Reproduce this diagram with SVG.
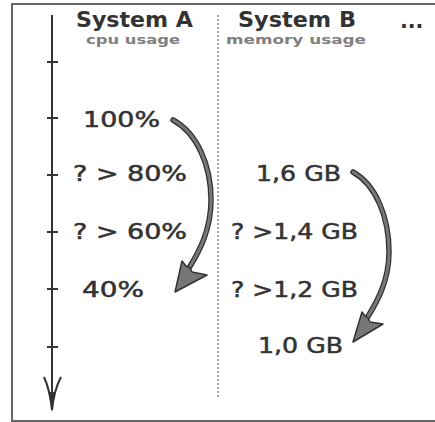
<svg xmlns="http://www.w3.org/2000/svg" width="435" height="422" viewBox="0 0 435 422">
<style>
text{font-family:"DejaVu Sans","Liberation Sans",sans-serif;fill:#333}
.hd{font-weight:bold;font-size:20.5px}
.sub{font-weight:bold;font-size:12.5px;fill:#808080}
.lb{font-size:20.5px;stroke:#333;stroke-width:0.5}
.ax{stroke:#333;stroke-width:2;fill:none}
.tk{stroke:#333;stroke-width:2}
.o{stroke:#333;stroke-width:5.5;fill:none;stroke-linecap:round}
.i{stroke:#777;stroke-width:3;fill:none;stroke-linecap:round}
.ah{fill:#777;stroke:#333;stroke-width:1.5;stroke-linejoin:round}
</style>
<rect x="12" y="4" width="440" height="417" fill="#fff" stroke="#666" stroke-width="2"/>
<g id="axis">
<line class="ax" x1="52" y1="15" x2="52" y2="405"/>
<line class="tk" x1="47" y1="62" x2="58" y2="62"/>
<line class="tk" x1="47" y1="118" x2="58" y2="118"/>
<line class="tk" x1="47" y1="175" x2="58" y2="175"/>
<line class="tk" x1="47" y1="232" x2="58" y2="232"/>
<line class="tk" x1="47" y1="289" x2="58" y2="289"/>
<line class="tk" x1="47" y1="347" x2="58" y2="347"/>
<path class="ax" d="M44,377 Q50,390 52,410 Q54,390 61,377"/>
<path d="M48.5,392 L55.5,392 L52,412 Z" fill="#333"/>
</g>
<line id="divider" x1="218" y1="15" x2="218" y2="399" stroke="#555" stroke-width="1" stroke-dasharray="2,2"/>
<g id="headerA">
<text class="hd" x="76" y="27" textLength="117" lengthAdjust="spacingAndGlyphs">System A</text>
<text class="sub" x="86" y="44" textLength="94" lengthAdjust="spacingAndGlyphs">cpu usage</text>
</g>
<g id="headerB">
<text class="hd" x="238" y="27" textLength="118" lengthAdjust="spacingAndGlyphs">System B</text>
<text class="sub" x="226" y="44" textLength="140" lengthAdjust="spacingAndGlyphs">memory usage</text>
</g>
<g id="more"><text class="hd" x="400" y="27.5">...</text></g>
<g id="a100"><text class="lb" x="83" y="127" textLength="77" lengthAdjust="spacingAndGlyphs">100%</text></g>
<g id="a80"><text class="lb" x="73" y="181" textLength="114" lengthAdjust="spacingAndGlyphs">? &gt; 80%</text></g>
<g id="a60"><text class="lb" x="73" y="238.5" textLength="114" lengthAdjust="spacingAndGlyphs">? &gt; 60%</text></g>
<g id="a40"><text class="lb" x="82" y="297" textLength="62" lengthAdjust="spacingAndGlyphs">40%</text></g>
<g id="b16"><text class="lb" x="256" y="181" textLength="85" lengthAdjust="spacingAndGlyphs">1,6 GB</text></g>
<g id="b14"><text class="lb" x="231" y="239" textLength="127" lengthAdjust="spacingAndGlyphs">? &gt;1,4 GB</text></g>
<g id="b12"><text class="lb" x="231" y="297" textLength="127" lengthAdjust="spacingAndGlyphs">? &gt;1,2 GB</text></g>
<g id="b10"><text class="lb" x="258" y="353" textLength="85" lengthAdjust="spacingAndGlyphs">1,0 GB</text></g>
<g id="connectors">
<g id="arrowA">
<path class="o" d="M173,120 C197,133 211,165 211,200 C211,230 199,252 189,268"/>
<path class="i" d="M173,120 C197,133 211,165 211,200 C211,230 199,252 189,268"/>
<polygon class="ah" points="175,292 182,261 186,266 190,268 192,272 207,275"/>
</g>
<g id="arrowB">
<path class="o" d="M353,172 C376,185 389,217 389,252 C389,281 377,302 367,318"/>
<path class="i" d="M353,172 C376,185 389,217 389,252 C389,281 377,302 367,318"/>
<polygon class="ah" points="353,342 362,312 365,316 368,318 370,322 383,324"/>
</g>
</g>
</svg>
